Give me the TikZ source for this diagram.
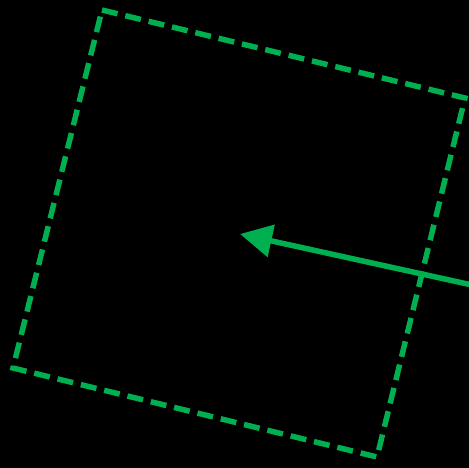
\documentclass[tikz,border=0pt]{standalone}
\usetikzlibrary{arrows.meta}
\definecolor{frame green}{RGB}{0,176,80}
\begin{document}
\begin{tikzpicture}[x = 1pt, y = -1pt, line width = 5.5pt, frame green]
			\fill[black] (0,0) rectangle (469,468);
			\useasboundingbox (0,0) rectangle (469,468);
			\coordinate (TL) at (102,10);
			\coordinate (TR) at (465,98);
			\coordinate (BR) at (377,457);
			\coordinate (BL) at (13,368);
			\coordinate (tail) at (472,285);
			\coordinate (tip) at (240,234);
			\draw[dash pattern = on 16pt off 8pt] (TL) -- (TR) -- (BR) -- (BL) -- cycle;
			\draw[-{Triangle[length=32pt,width=32pt]}] (tail) -- (tip);
		\end{tikzpicture}
\end{document}
